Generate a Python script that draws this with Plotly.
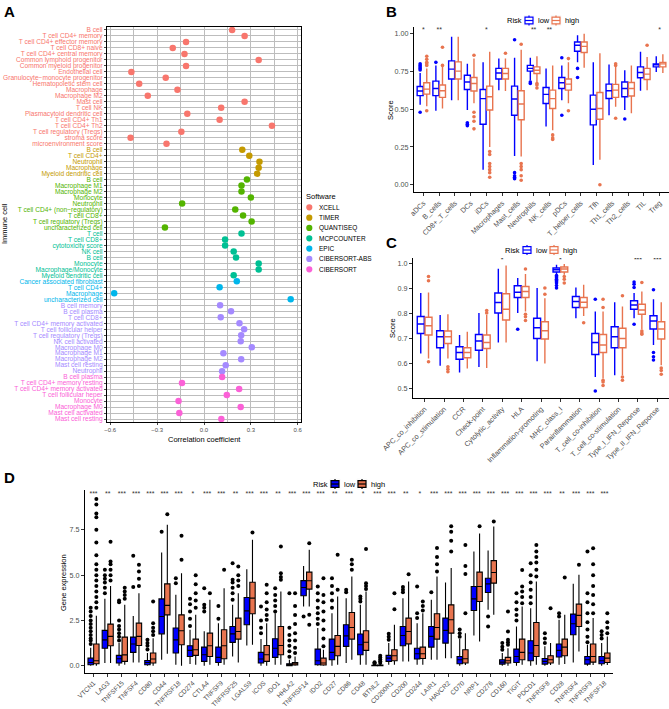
import numpy as np
import plotly.graph_objects as go

W, H = 669, 709
FONT = "Liberation Sans, Arial, sans-serif"
LOW_C = "#0000FF"
HIGH_C = "#E8744F"

# ---------------------------------------------------------------- panel A data
soft_names = ["XCELL", "TIMER", "QUANTISEQ", "MCPCOUNTER", "EPIC", "CIBERSORT-ABS", "CIBERSORT"]
soft_colors = ["#F8766D", "#C49A00", "#53B400", "#00C094", "#00B6EB", "#A58AFF", "#FB61D7"]

xcell_cells = ["B cell", "T cell CD4+ memory", "T cell CD4+ effector memory", "T cell CD8+ naive",
               "T cell CD4+ central memory", "Common lymphoid progenitor", "Common myeloid progenitor",
               "Endothelial cell", "Granulocyte−monocyte progenitor", "Hematopoietic stem cell",
               "Macrophage", "Macrophage M2", "Mast cell", "T cell NK", "Plasmacytoid dendritic cell",
               "T cell CD4+ Th1", "T cell CD4+ Th2", "T cell regulatory (Tregs)", "stroma score",
               "microenvironment score"]
xcell_r = [0.18, 0.26, -0.115, -0.20, -0.125, 0.35, -0.115, -0.465, -0.245, -0.415,
           -0.17, -0.36, 0.26, 0.11, -0.107, 0.10, 0.435, -0.145, -0.47, -0.24]
timer_cells = ["B cell", "T cell CD4+", "Neutrophil", "Macrophage", "Myeloid dendritic cell"]
timer_r = [0.245, 0.29, 0.355, 0.35, 0.34]
quant_cells = ["B cell", "Macrophage M1", "Macrophage M2", "Monocyte", "Neutrophil",
               "T cell CD4+ (non−regulatory)", "T cell CD8+", "T cell regulatory (Tregs)",
               "uncharacterized cell"]
quant_r = [0.275, 0.24, 0.24, 0.30, -0.14, 0.20, 0.25, 0.305, -0.25]
mcp_cells = ["T cell", "T cell CD8+", "cytotoxicity score", "NK cell", "B cell", "Monocyte",
             "Macrophage/Monocyte", "Myeloid dendritic cell"]
mcp_r = [0.24, 0.135, 0.135, 0.19, 0.205, 0.35, 0.35, 0.19]
epic_cells = ["Cancer associated fibroblast", "T cell CD4+", "Macrophage", "uncharacterized cell"]
epic_r = [0.21, 0.10, -0.575, 0.555]
cibabs_cells = ["B cell memory", "B cell plasma", "T cell CD8+", "T cell CD4+ memory activated",
                "T cell follicular helper", "T cell regulatory (Tregs)", "NK cell activated",
                "Macrophage M0", "Macrophage M1", "Macrophage M2", "Mast cell resting", "Neutrophil"]
cibabs_r = [0.103, 0.173, 0.107, 0.227, 0.257, 0.238, 0.235, 0.306, 0.124, 0.238, 0.139, 0.116]
cib_cells = ["B cell plasma", "T cell CD4+ memory resting", "T cell CD4+ memory activated",
             "T cell follicular heper", "Monocyte", "Macrophage M0", "Mast cell activated",
             "Mast cell resting"]
cib_r = [0.116, -0.141, 0.225, 0.146, -0.163, 0.235, -0.158, 0.111]

# ---------------------------------------------------------------- panel B data
b_cells = ["aDCs", "B_cells", "CD8+_T_cells", "DCs", "iDCs", "Macrophages", "Mast_cells",
           "Neutrophils", "NK_cells", "pDCs", "T_helper_cells", "Tfh", "Th1_cells", "Th2_cells",
           "TIL", "Treg"]
# lower whisker, q1, median, q3, upper whisker
b_low = [[0.53, 0.59, 0.62, 0.65, 0.74], [0.49, 0.59, 0.637, 0.686, 0.79], [0.56, 0.70, 0.765, 0.82, 0.98],
         [0.495, 0.63, 0.68, 0.725, 0.80], [0.10, 0.40, 0.57, 0.63, 0.81], [0.625, 0.70, 0.74, 0.77, 0.835],
         [0.19, 0.46, 0.567, 0.653, 0.84], [0.69, 0.752, 0.77, 0.79, 0.84], [0.385, 0.538, 0.598, 0.644, 0.77],
         [0.56, 0.637, 0.675, 0.71, 0.79], [0.81, 0.884, 0.923, 0.945, 0.989], [0.13, 0.396, 0.50, 0.593, 0.81],
         [0.46, 0.571, 0.622, 0.666, 0.795], [0.495, 0.582, 0.637, 0.68, 0.758], [0.622, 0.708, 0.743, 0.78, 0.88],
         [0.747, 0.78, 0.795, 0.80, 0.85]]
b_high = [[0.52, 0.60, 0.633, 0.675, 0.77], [0.505, 0.578, 0.622, 0.66, 0.78], [0.56, 0.70, 0.752, 0.813, 0.98],
          [0.54, 0.62, 0.67, 0.71, 0.835], [0.25, 0.495, 0.582, 0.653, 0.88], [0.62, 0.70, 0.736, 0.77, 0.835],
          [0.187, 0.43, 0.534, 0.622, 0.894], [0.65, 0.736, 0.758, 0.78, 0.85], [0.36, 0.505, 0.57, 0.626, 0.79],
          [0.54, 0.626, 0.666, 0.70, 0.81], [0.774, 0.875, 0.916, 0.945, 1.0], [0.165, 0.433, 0.505, 0.611, 0.87],
          [0.516, 0.578, 0.626, 0.664, 0.78], [0.473, 0.587, 0.637, 0.677, 0.79], [0.626, 0.697, 0.732, 0.77, 0.846],
          [0.74, 0.78, 0.80, 0.81, 0.864]]
b_low_out = [[0.48, 0.76, 0.77, 0.78, 0.79, 0.80], [0.81], [], [0.39, 0.40, 0.41], [], [],
             [0.96, 0.04, 0.05, 0.06, 0.08], [0.67, 0.68], [], [0.84, 0.46], [0.77, 0.71], [], [],
             [0.435], [], []]
b_high_out = [[0.49, 0.79, 0.80, 0.81, 0.83, 0.85], [0.79, 0.91], [], [0.857, 0.48, 0.45, 0.42, 0.37],
              [0.22, 0.20, 0.14, 0.12, 0.10, 0.08, 0.05], [0.87], [0.93, 0.14, 0.12, 0.10, 0.06, 0.03],
              [0.64, 0.66, 0.67], [0.30, 0.31, 0.33], [0.835, 0.49], [], [0.0], [0.79, 0.80, 0.44], [],
              [0.923], []]
b_stars = ["*", "**", "", "", "*", "", "", "**", "**", "", "", "", "", "", "", "*"]

# ---------------------------------------------------------------- panel C data
c_sets = ["APC_co_inhibition", "APC_co_stimulation", "CCR", "Check-point", "Cytolytic_activity", "HLA",
          "Inflammation-promoting", "MHC_class_I", "Parainflammation", "T_cell_co-inhibition",
          "T_cell_co-stimulation", "Type_I_IFN_Reponse", "Type_II_IFN_Reponse"]
c_low = [[0.638, 0.718, 0.756, 0.786, 0.88], [0.589, 0.661, 0.705, 0.729, 0.792], [0.562, 0.615, 0.642, 0.665, 0.712],
         [0.584, 0.651, 0.688, 0.714, 0.80], [0.682, 0.80, 0.842, 0.88, 0.977], [0.80, 0.862, 0.883, 0.909, 0.94],
         [0.607, 0.698, 0.741, 0.779, 0.90], [0.953, 0.964, 0.973, 0.98, 0.993], [0.779, 0.822, 0.846, 0.866, 0.902],
         [0.544, 0.634, 0.682, 0.718, 0.806], [0.551, 0.661, 0.705, 0.745, 0.843], [0.779, 0.815, 0.832, 0.849, 0.88],
         [0.672, 0.736, 0.768, 0.789, 0.855]]
c_high = [[0.618, 0.712, 0.749, 0.783, 0.882], [0.618, 0.678, 0.705, 0.728, 0.795], [0.578, 0.621, 0.642, 0.661, 0.725],
          [0.58, 0.658, 0.682, 0.712, 0.792], [0.682, 0.772, 0.815, 0.877, 0.99], [0.806, 0.862, 0.886, 0.906, 0.956],
          [0.598, 0.696, 0.729, 0.765, 0.859], [0.953, 0.964, 0.976, 0.984, 0.996], [0.788, 0.822, 0.843, 0.862, 0.913],
          [0.538, 0.642, 0.672, 0.714, 0.806], [0.551, 0.661, 0.698, 0.739, 0.826], [0.735, 0.795, 0.812, 0.835, 0.886],
          [0.591, 0.696, 0.736, 0.765, 0.843]]
c_low_out = [[], [], [], [], [], [0.735], [], [0.95, 0.945, 0.94, 0.935, 0.93, 0.925, 0.92, 0.91, 0.90], [],
             [0.855, 0.488], [], [0.924, 0.915, 0.902, 0.755], [0.893, 0.642, 0.625, 0.612]]
c_high_out = [[0.946, 0.929, 0.605], [0.585, 0.575, 0.565], [], [0.81, 0.80], [], [0.976, 0.795, 0.785, 0.77],
              [0.90, 0.875], [0.946, 0.935, 0.92], [0.761], [0.855, 0.822, 0.531, 0.524, 0.51],
              [0.869, 0.544, 0.531], [0.922, 0.728, 0.72, 0.715], [0.58, 0.57, 0.555]]
c_stars = ["", "", "", "", "*", "", "", "*", "", "", "", "***", "***"]

# ---------------------------------------------------------------- panel D data
genes = ["VTCN1", "LAG3", "TNFSF15", "TNFSF4", "CD80", "CD44", "TNFRSF18", "CD274", "CTLA4", "TNFSF9",
         "TNFRSF25", "LGALS9", "ICOS", "IDO1", "HHLA2", "TNFRSF14", "IDO2", "CD27", "CD86", "CD48", "BTNL2",
         "CD200R1", "CD200", "CD244", "LAIR1", "HAVCR2", "CD70", "NRP1", "CD276", "CD160", "TIGIT", "PDCD1",
         "TNFRSF8", "CD28", "TNFRSF4", "TNFRSF9", "TNFSF18"]
d_low = [[0.0, 0.055, 0.18, 0.42, 1.0], [0.15, 0.97, 1.43, 1.95, 3.7], [0.0, 0.15, 0.39, 0.57, 1.25],
         [0.18, 0.74, 1.2, 1.58, 2.75], [0.0, 0.055, 0.18, 0.29, 0.7], [0.33, 1.76, 2.72, 3.69, 6.25],
         [0.055, 0.70, 1.43, 2.08, 3.92], [0.09, 0.51, 0.85, 1.1, 1.99], [0.0, 0.24, 0.61, 1.03, 1.9],
         [0.0, 0.18, 0.46, 1.03, 2.35], [0.51, 1.29, 1.76, 2.17, 3.36], [1.12, 2.26, 3.03, 3.77, 5.33],
         [0.0, 0.15, 0.37, 0.74, 1.47], [0.05, 0.46, 0.97, 1.49, 2.9], [0.0, 0.0, 0.04, 0.11, 0.33],
         [3.27, 3.86, 4.32, 4.7, 5.51], [0.0, 0.055, 0.28, 0.92, 2.08], [0.0, 0.33, 0.74, 1.47, 2.9],
         [0.15, 1.07, 1.65, 2.26, 3.73], [0.05, 0.61, 1.16, 1.75, 3.36], [0.0, 0.0, 0.01, 0.03, 0.07],
         [0.05, 0.24, 0.42, 0.57, 1.25], [0.24, 1.1, 1.67, 2.17, 3.73], [0.05, 0.37, 0.66, 0.97, 2.35],
         [0.33, 1.03, 1.62, 2.17, 3.64], [0.42, 1.25, 1.95, 2.63, 4.6], [0.0, 0.11, 0.33, 0.51, 1.47],
         [1.67, 3.05, 3.69, 4.37, 6.3], [3.09, 4.04, 4.52, 4.83, 6.36], [0.0, 0.09, 0.2, 0.33, 0.7],
         [0.0, 0.18, 0.51, 0.92, 2.17], [0.0, 0.28, 0.7, 1.38, 3.18], [0.0, 0.09, 0.24, 0.4, 1.07],
         [0.05, 0.48, 0.85, 1.2, 2.54], [0.18, 1.71, 2.32, 2.85, 4.52], [0.0, 0.09, 0.33, 0.51, 1.16],
         [0.0, 0.11, 0.28, 0.51, 1.25]]
d_high = [[0.0, 0.11, 0.28, 1.2, 2.76], [0.15, 1.10, 1.62, 2.30, 4.4], [0.05, 0.24, 0.6, 1.58, 3.36],
          [0.18, 1.12, 1.62, 2.35, 4.0], [0.0, 0.15, 0.37, 0.7, 1.52], [0.66, 2.81, 3.33, 4.52, 7.78],
          [0.0, 1.16, 1.93, 2.81, 5.11], [0.05, 0.57, 0.88, 1.47, 2.81], [0.05, 0.51, 1.1, 1.8, 3.64],
          [0.05, 0.39, 1.1, 1.99, 4.28], [0.18, 1.47, 1.89, 2.63, 4.0], [1.16, 2.87, 3.73, 4.61, 6.95],
          [0.0, 0.24, 0.61, 1.12, 2.35], [0.05, 0.61, 1.12, 2.17, 4.1], [0.0, 0.04, 0.11, 0.18, 0.51],
          [3.27, 4.23, 4.69, 5.17, 6.4], [0.0, 0.04, 0.15, 0.42, 0.88], [0.05, 0.55, 1.07, 1.67, 3.82],
          [0.33, 1.47, 2.11, 2.94, 4.93], [0.05, 0.85, 1.3, 1.93, 4.1], [0.0, 0.0, 0.01, 0.04, 0.09],
          [0.05, 0.28, 0.55, 0.88, 2.26], [0.24, 1.21, 1.89, 2.63, 4.65], [0.05, 0.4, 0.66, 1.03, 2.9],
          [0.33, 1.47, 2.11, 2.87, 4.93], [0.42, 1.8, 2.54, 3.36, 5.39], [0.04, 0.15, 0.39, 0.88, 1.8],
          [1.34, 3.55, 4.37, 5.17, 7.3], [2.81, 4.56, 5.15, 5.8, 7.68], [0.0, 0.15, 0.28, 0.46, 0.97],
          [0.05, 0.33, 0.74, 1.47, 3.27], [0.05, 0.51, 1.12, 2.39, 4.65], [0.04, 0.15, 0.33, 0.55, 1.25],
          [0.09, 0.55, 1.03, 1.47, 2.81], [0.79, 2.17, 2.78, 3.4, 5.02], [0.04, 0.2, 0.51, 1.2, 2.63],
          [0.04, 0.18, 0.42, 0.7, 1.62]]
d_low_out = [[1.2, 1.4, 1.5, 1.7, 1.9, 2.1, 2.3, 2.5, 2.75, 3.0, 3.2], [4.0, 4.3, 4.6, 4.8, 5.0, 5.3],
             [1.4, 1.6, 1.8, 2.0, 2.2, 2.5, 3.5, 3.6], [4.34, 6.07], [0.9, 1.1, 1.25, 1.43], [7.4],
             [4.56, 4.83], [2.2, 2.6, 3.0, 3.4, 3.7], [3.0, 3.2, 3.36, 4.28], [2.6, 3.3],
             [3.64, 4.0, 4.3, 4.6, 4.74, 5.66], [], [1.8, 2.1, 2.5, 3.27], [3.0, 3.3, 3.6, 3.9, 4.28],
             [0.5, 0.8, 1.1, 1.4, 1.7, 2.1, 4.0], [2.72], [2.3, 2.6, 2.9, 3.2, 3.6, 4.0, 4.37],
             [3.2, 3.6, 4.0, 4.4, 4.83], [4.05, 4.2], [3.55, 3.7, 3.82], [0.1, 0.15, 0.2], [1.43, 1.6, 1.76],
             [4.05, 4.2, 4.34], [2.63, 2.9, 4.37], [4.05], [], [1.6, 1.8, 2.0], [], [2.72, 2.17],
             [0.88, 1.05, 1.25], [2.5, 2.8, 3.1, 3.5, 4.0], [3.45, 3.8, 4.2, 4.6, 5.0, 5.66], [1.25, 1.5, 1.8],
             [2.72, 2.9], [], [1.3, 1.6, 2.0, 2.4, 2.9, 3.5, 4.0, 6.3], [1.5, 1.7, 1.9]]
d_high_out = [[3.2, 3.5, 3.8, 4.1, 4.4, 4.7, 5.0, 5.3, 5.6, 6.1, 6.8, 7.5, 8.2, 8.4, 8.9, 9.2],
              [4.7, 5.0, 5.3, 5.6, 5.75, 6.85], [3.7, 3.9, 4.1, 4.3], [4.4, 4.8, 5.2, 5.57],
              [1.7, 1.9, 2.1, 2.35, 3.55], [8.36], [5.85, 7.17], [3.2, 3.6, 4.0, 4.5, 5.0], [4.0], [5.3],
              [4.4, 4.7, 5.0, 5.48], [7.35], [2.54, 2.8, 3.1, 3.5, 4.0, 4.47], [4.74, 4.9, 5.11, 6.58],
              [0.7, 1.0, 1.4, 1.8, 2.3, 2.8, 3.3, 4.0], [6.76, 2.81, 2.26],
              [1.07, 1.5, 2.0, 2.5, 3.0, 3.5, 3.9, 4.83], [4.2, 6.12], [5.3, 5.6, 5.85], [4.23, 4.4, 4.56, 6.45],
              [0.15, 0.25, 0.35, 0.45, 0.55], [3.12, 4.0], [5.05], [3.05, 3.3, 3.55], [5.2, 5.6, 6.0, 6.5],
              [6.3, 6.9, 7.4, 7.7], [2.9, 5.07, 5.51, 6.67], [7.7], [7.96], [1.16, 1.3, 1.43, 1.89, 3.0],
              [3.45, 3.8, 4.1, 4.37, 5.29], [4.93, 5.3, 5.7, 6.0, 6.3, 6.67], [3.18], [4.87], [5.57],
              [2.9, 3.4, 3.9, 4.4, 5.0, 5.6, 6.49], [1.8, 2.1, 2.4, 2.9]]
d_stars = ["***", "**", "***", "***", "***", "***", "***", "*", "***", "***", "**", "***", "***", "**",
           "***", "***", "***", "**", "***", "*", "***", "***", "**", "*", "***", "***", "***", "***",
           "***", "***", "***", "***", "***", "**", "***", "***", "***"]


def px_x(p):
    return p / W


def px_y(p):
    return 1 - p / H


fig = go.Figure()

# ---------------------------------------------------------------- panel A
groups = [(xcell_cells, xcell_r), (timer_cells, timer_r), (quant_cells, quant_r), (mcp_cells, mcp_r),
          (epic_cells, epic_r), (cibabs_cells, cibabs_r), (cib_cells, cib_r)]
row = 0
a_ticktext = []
for (cells, vals), name, col in zip(groups, soft_names, soft_colors):
    idx = list(range(row, row + len(cells)))
    row += len(cells)
    a_ticktext += [f"<span style='color:{col}'>{c}</span>" for c in cells]
    fig.add_trace(go.Scatter(
        x=vals, y=idx, mode="markers", name=name, showlegend=False,
        marker=dict(color=col, size=6.5), xaxis="x", yaxis="y",
    ))
n_rows = row


# ---------------------------------------------------------------- box panels
def add_boxes(cats, stats, outs, xa, ya, offset, width, name, filled):
    pos = np.arange(len(cats)) + offset
    st = np.array(stats)
    col = LOW_C if name == "low" else HIGH_C
    fig.add_trace(go.Box(
        x=pos, lowerfence=st[:, 0], q1=st[:, 1], median=st[:, 2], q3=st[:, 3], upperfence=st[:, 4],
        width=width, name=name, whiskerwidth=0, boxpoints=False, showlegend=False,
        fillcolor=col if filled else "white",
        line=dict(color="black" if filled else col, width=1.1 if filled else 1.4),
        xaxis=xa, yaxis=ya,
    ))
    ox = [p for p, o in zip(pos, outs) for _ in o]
    oy = [v for o in outs for v in o]
    fig.add_trace(go.Scatter(
        x=ox, y=oy, mode="markers", showlegend=False, xaxis=xa, yaxis=ya,
        marker=dict(color="black" if filled else col, size=4 if filled else 3.6),
    ))


add_boxes(b_cells, b_low, b_low_out, "x2", "y2", -0.21, 0.38, "low", False)
add_boxes(b_cells, b_high, b_high_out, "x2", "y2", 0.21, 0.38, "high", False)
add_boxes(c_sets, c_low, c_low_out, "x3", "y3", -0.2, 0.36, "low", False)
add_boxes(c_sets, c_high, c_high_out, "x3", "y3", 0.2, 0.36, "high", False)
add_boxes(genes, d_low, d_low_out, "x4", "y4", -0.2, 0.38, "low", True)
add_boxes(genes, d_high, d_high_out, "x4", "y4", 0.2, 0.38, "high", True)

# significance stars
for cats, stars, xa, ya, yv in [(b_cells, b_stars, "x2", "y2", 1.02),
                                (c_sets, c_stars, "x3", "y3", 1.012),
                                (genes, d_stars, "x4", "y4", 9.45)]:
    fig.add_trace(go.Scatter(
        x=np.arange(len(cats)), y=[yv] * len(cats), mode="text", text=stars,
        textfont=dict(size=7, color="#333333"), showlegend=False, xaxis=xa, yaxis=ya,
    ))

# ---------------------------------------------------------------- layout
tick_font = dict(family=FONT, size=7.2, color="#4D4D4D")
box_axis = dict(showline=True, linecolor="black", linewidth=1.2, ticks="outside", ticklen=3,
                tickcolor="#333333", showgrid=False, zeroline=False, automargin=False,
                tickfont=tick_font)

fig.update_layout(
    width=W, height=H, margin=dict(l=0, r=0, t=0, b=0),
    paper_bgcolor="white", plot_bgcolor="white", showlegend=False,
    font=dict(family=FONT, color="black"),
    xaxis=dict(domain=[px_x(107), px_x(301)], range=[-0.621, 0.621], tickvals=[-0.6, -0.3, 0, 0.3, 0.6],
               ticktext=["−0.6", "−0.3", "0.0", "0.3", "0.6"], showgrid=True, gridcolor="#BDBDBD",
               gridwidth=1.3, minor=dict(dtick=0.15, tick0=0, showgrid=True, gridcolor="#BDBDBD", gridwidth=1.3),
               zeroline=False, showline=True, linecolor="black", linewidth=1.2, mirror=True,
               ticks="outside", ticklen=2, tickfont=dict(family=FONT, size=6, color="#4D4D4D"),
               automargin=False, anchor="y"),
    yaxis=dict(domain=[px_y(422), px_y(27)], range=[n_rows - 0.5, -0.5], tickvals=list(range(n_rows)),
               ticktext=a_ticktext, showgrid=True, gridcolor="#BDBDBD", gridwidth=1.3, zeroline=False,
               showline=True, linecolor="black", linewidth=1.2, mirror=True, ticks="outside", ticklen=2,
               tickfont=dict(family=FONT, size=6.6), automargin=False, anchor="x"),
    xaxis2=dict(box_axis, domain=[px_x(414), 1.0], range=[-0.6, 15.6], tickvals=list(range(len(b_cells))),
                ticktext=b_cells, tickangle=-45, anchor="y2"),
    yaxis2=dict(box_axis, domain=[px_y(192), px_y(27)], range=[-0.048, 1.044], tickvals=[0, 0.25, 0.5, 0.75, 1.0],
                ticktext=["0.00", "0.25", "0.50", "0.75", "1.00"], anchor="x2"),
    xaxis3=dict(box_axis, domain=[px_x(413), 1.0], range=[-0.6, 12.6], tickvals=list(range(len(c_sets))),
                ticktext=c_sets, tickangle=-45, anchor="y3"),
    yaxis3=dict(box_axis, domain=[px_y(398), px_y(258)], range=[0.46, 1.02],
                tickvals=[0.5, 0.6, 0.7, 0.8, 0.9, 1.0], ticktext=["0.5", "0.6", "0.7", "0.8", "0.9", "1.0"],
                anchor="x3"),
    xaxis4=dict(box_axis, domain=[px_x(85), px_x(613)], range=[-0.6, 36.6], tickvals=list(range(len(genes))),
                ticktext=genes, tickangle=-45, anchor="y4", ticklen=2.5,
                tickfont=dict(family=FONT, size=6.6, color="#4D4D4D")),
    yaxis4=dict(box_axis, domain=[px_y(673), px_y(490)], range=[-0.4, 9.7], tickvals=[0, 2.5, 5.0, 7.5],
                ticktext=["0.0", "2.5", "5.0", "7.5"], anchor="x4"),
    boxmode="overlay",
)


def note(text, x, y, size, angle=0, xa="center", ya="middle", color="black"):
    fig.add_annotation(text=text, x=px_x(x), y=px_y(y), xref="paper", yref="paper", showarrow=False,
                       textangle=angle, xanchor=xa, yanchor=ya,
                       font=dict(family=FONT, size=size, color=color))


# panel letters and axis titles
note("<b>A</b>", 2, 1, 15, xa="left", ya="top")
note("<b>B</b>", 384, 1, 15, xa="left", ya="top")
note("<b>C</b>", 384, 232, 15, xa="left", ya="top")
note("<b>D</b>", 2, 467, 15, xa="left", ya="top")
note("Correlation coefficient", 204, 439, 7.5)
note("Immune cell", 5, 224, 7.5, angle=-90)
note("Score", 391, 110, 7.5, angle=-90)
note("Score", 393, 328, 7.5, angle=-90)
note("Gene expression", 63, 582, 7.5, angle=-90)

# legend for panel A (drawn as keys)
note("Software", 304, 196, 7.5, xa="left")
for i, (name, col) in enumerate(zip(soft_names, soft_colors)):
    cy = 207.3 + 10.33 * i
    fig.add_shape(type="circle", xref="paper", yref="paper", x0=px_x(306.2), x1=px_x(312.4),
                  y0=px_y(cy + 3.1), y1=px_y(cy - 3.1), fillcolor=col, line=dict(width=0))
    note(name, 316.5, cy, 6.5, xa="left")


def box_key(cx, cy, line_col, fill_col):
    # small ggplot-style box key: whisker, box, median
    fig.add_shape(type="rect", xref="paper", yref="paper", x0=px_x(cx - 5), x1=px_x(cx + 5),
                  y0=px_y(cy + 5), y1=px_y(cy - 5), fillcolor="white", line=dict(color="#F2F2F2", width=0.5))
    fig.add_shape(type="line", xref="paper", yref="paper", x0=px_x(cx), x1=px_x(cx),
                  y0=px_y(cy + 5), y1=px_y(cy - 5), line=dict(color=line_col, width=1.2))
    fig.add_shape(type="rect", xref="paper", yref="paper", x0=px_x(cx - 4), x1=px_x(cx + 4),
                  y0=px_y(cy + 3.3), y1=px_y(cy - 3.3), fillcolor=fill_col, line=dict(color=line_col, width=1.2))
    fig.add_shape(type="line", xref="paper", yref="paper", x0=px_x(cx - 4), x1=px_x(cx + 4),
                  y0=px_y(cy), y1=px_y(cy), line=dict(color=line_col, width=1.2))


for lx, ly, filled in [(505, 20.5, False), (503, 250, False), (311, 484, True)]:
    note("Risk", lx, ly, 7.5, xa="left")
    box_key(lx + 24, ly, "black" if filled else LOW_C, LOW_C if filled else "white")
    note("low", lx + 31, ly, 7.5, xa="left")
    box_key(lx + 51, ly, "black" if filled else HIGH_C, HIGH_C if filled else "white")
    note("high", lx + 58, ly, 7.5, xa="left")

fig.write_html("out.html", config={"displayModeBar": False},
               post_script="document.body.style.margin='0';")
